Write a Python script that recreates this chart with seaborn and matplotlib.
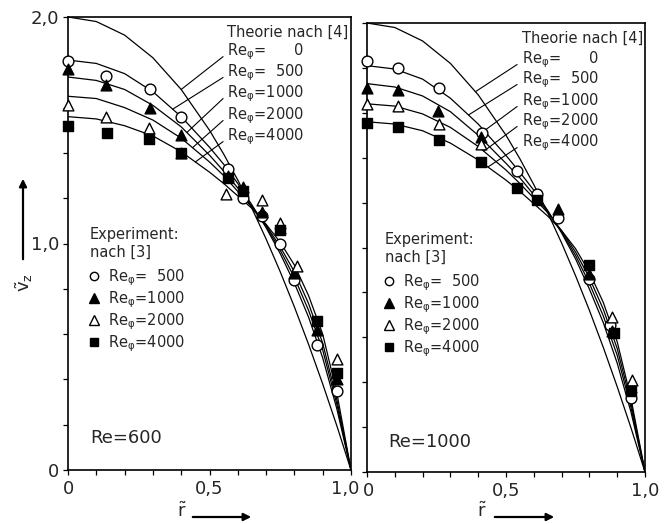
import numpy as np
import pandas as pd
import matplotlib
matplotlib.use("Agg")
import matplotlib.pyplot as plt
import seaborn as sns
from matplotlib.lines import Line2D
from matplotlib.patches import FancyArrowPatch
from matplotlib.transforms import ScaledTranslation

# ---------------- data ----------------
r_grid = [0, .1, .2, .3, .4, .5, .55, .6, .65, .7, .75, .8, .85, .9, .95, 1.0]

# theory, Re = 600 (left panel)
L_re0    = [2.0, 1.98, 1.92, 1.82, 1.68, 1.50, 1.395, 1.28, 1.155, 1.02, 0.875, 0.72, 0.555, 0.38, 0.195, 0]
L_re500  = [1.81, 1.795, 1.75, 1.67, 1.56, 1.425, 1.35, 1.265, 1.17, 1.07, 0.955, 0.825, 0.675, 0.495, 0.27, 0]
L_re1000 = [1.735, 1.72, 1.68, 1.61, 1.515, 1.39, 1.32, 1.245, 1.165, 1.075, 0.97, 0.85, 0.705, 0.53, 0.29, 0]
L_re2000 = [1.65, 1.64, 1.60, 1.545, 1.465, 1.36, 1.30, 1.23, 1.16, 1.08, 0.985, 0.875, 0.735, 0.56, 0.31, 0]
L_re4000 = [1.56, 1.55, 1.52, 1.475, 1.405, 1.315, 1.265, 1.21, 1.155, 1.085, 1.005, 0.905, 0.77, 0.60, 0.34, 0]

# theory, Re = 1000 (right panel)
R_re0    = [2.0, 1.98, 1.92, 1.82, 1.68, 1.50, 1.395, 1.28, 1.155, 1.02, 0.875, 0.72, 0.555, 0.38, 0.195, 0]
R_re500  = [1.81, 1.795, 1.75, 1.665, 1.55, 1.41, 1.335, 1.255, 1.165, 1.065, 0.95, 0.815, 0.665, 0.485, 0.265, 0]
R_re1000 = [1.73, 1.715, 1.675, 1.605, 1.50, 1.375, 1.31, 1.235, 1.16, 1.07, 0.965, 0.84, 0.695, 0.52, 0.285, 0]
R_re2000 = [1.64, 1.63, 1.595, 1.535, 1.45, 1.345, 1.285, 1.22, 1.155, 1.075, 0.98, 0.865, 0.725, 0.55, 0.305, 0]
R_re4000 = [1.56, 1.55, 1.52, 1.465, 1.39, 1.30, 1.25, 1.195, 1.14, 1.075, 0.995, 0.89, 0.755, 0.58, 0.325, 0]

# experiment, Re = 600 (left panel)
L_e500_r  = [0.0, 0.134, 0.29, 0.40, 0.565, 0.62, 0.686, 0.75, 0.80, 0.88, 0.95]
L_e500_v  = [1.805, 1.74, 1.68, 1.56, 1.33, 1.20, 1.12, 1.00, 0.84, 0.55, 0.35]
L_e1000_r = [0.0, 0.134, 0.29, 0.40, 0.565, 0.62, 0.686, 0.75, 0.80, 0.88, 0.95]
L_e1000_v = [1.77, 1.70, 1.60, 1.48, 1.30, 1.25, 1.14, 1.07, 0.87, 0.62, 0.40]
L_e2000_r = [0.0, 0.134, 0.285, 0.40, 0.56, 0.686, 0.75, 0.81, 0.95]
L_e2000_v = [1.61, 1.56, 1.51, 1.40, 1.22, 1.19, 1.09, 0.90, 0.49]
L_e4000_r = [0.0, 0.138, 0.286, 0.40, 0.565, 0.62, 0.75, 0.88, 0.95]
L_e4000_v = [1.52, 1.49, 1.46, 1.40, 1.29, 1.23, 1.06, 0.66, 0.43]

# experiment, Re = 1000 (right panel)
R_e500_r  = [0.0, 0.113, 0.258, 0.413, 0.54, 0.612, 0.688, 0.80, 0.873, 0.95]
R_e500_v  = [1.83, 1.80, 1.71, 1.51, 1.34, 1.24, 1.13, 0.86, 0.655, 0.33]
R_e1000_r = [0.0, 0.113, 0.254, 0.41, 0.688, 0.80, 0.88, 0.95]
R_e1000_v = [1.71, 1.70, 1.61, 1.49, 1.17, 0.88, 0.63, 0.38]
R_e2000_r = [0.0, 0.113, 0.258, 0.41, 0.88, 0.953]
R_e2000_v = [1.64, 1.63, 1.55, 1.46, 0.69, 0.41]
R_e4000_r = [0.0, 0.113, 0.258, 0.41, 0.54, 0.61, 0.80, 0.888, 0.95]
R_e4000_v = [1.555, 1.535, 1.48, 1.38, 1.265, 1.21, 0.92, 0.62, 0.36]

re_phi_labels = ["0", "500", "1000", "2000", "4000"]
x_ticklabels = ["0", "0,5", "1,0"]
y_ticklabels = ["0", "1,0", "2,0"]

# ---------------- style ----------------
sns.set_style("ticks")
plt.rcParams["font.family"] = ["DejaVu Sans"]
plt.rcParams["mathtext.fontset"] = "dejavusans"
plt.rcParams["mathtext.default"] = "regular"

W, H = 666, 524
fig = plt.figure(figsize=(W / 100, H / 100), dpi=100)

def px_axes(l, r, t, b):
    return fig.add_axes([l / W, 1 - b / H, (r - l) / W, (b - t) / H])

axL = px_axes(68, 351, 17, 470)
axR = px_axes(367, 645, 23, 472)

def phi_label(n):
    pad = {1: "      ", 3: "  ", 4: ""}[len(n)]
    return r"Re$_{\varphi}$=" + pad + n

open_kw = dict(facecolor="white", edgecolor="black", linewidth=1.0, zorder=5, clip_on=False)
fill_kw = dict(facecolor="black", edgecolor="black", linewidth=1.0, zorder=5, clip_on=False)

def draw_panel(ax, curves, exps, leader_r, txt_x, lead_x, txt_y, theorie_y,
               exp_title_pos, exp_anchor, re_text, re_pos, ylabels):
    for c in curves:
        sns.lineplot(x=r_grid, y=c, ax=ax, color="black", linewidth=0.9,
                     sort=False, estimator=None, zorder=3)
    (e5r, e5v), (e1r, e1v), (e2r, e2v), (e4r, e4v) = exps
    sns.scatterplot(x=e5r, y=e5v, ax=ax, marker="o", s=60, **open_kw)
    sns.scatterplot(x=e1r, y=e1v, ax=ax, marker="^", s=60, **fill_kw)
    sns.scatterplot(x=e2r, y=e2v, ax=ax, marker="^", s=60, **open_kw)
    sns.scatterplot(x=e4r, y=e4v, ax=ax, marker="s", s=42, **fill_kw)

    ax.set_xlim(0, 1.0)
    ax.set_ylim(0, 2.0)
    ax.set_xticks([0, 0.5, 1.0])
    ax.set_xticklabels(x_ticklabels)
    ax.set_xticks(np.arange(0, 1.01, 0.1), minor=True)
    ax.set_yticks([0, 1.0, 2.0])
    ax.set_yticklabels(ylabels)
    ax.set_yticks(np.arange(0, 2.01, 0.2), minor=True)
    ax.tick_params(axis="both", which="both", direction="out", length=3.5,
                   width=0.9, color="black", labelsize=13)
    ax.tick_params(axis="x", which="major", pad=4)
    ax.tick_params(axis="y", which="major", pad=3)
    for sp in ax.spines.values():
        sp.set_visible(True)
        sp.set_linewidth(1.2)
        sp.set_color("black")
    ax.set_xlabel("")
    ax.set_ylabel("")

    ax.text(txt_x, theorie_y, "Theorie nach [4]", fontsize=10.5,
            ha="left", va="center", zorder=6)
    for c, rr, ty, lab in zip(curves, leader_r, txt_y, re_phi_labels):
        ax.text(txt_x, ty, phi_label(lab), fontsize=10.5, ha="left",
                va="center", zorder=6)
        ax.annotate("", xy=(rr, np.interp(rr, r_grid, c)),
                    xytext=(lead_x, ty - 0.02),
                    arrowprops=dict(arrowstyle="-", lw=0.8, color="black",
                                    shrinkA=0, shrinkB=0))

    ax.text(exp_title_pos[0], exp_title_pos[1], "Experiment:\nnach [3]",
            fontsize=10.5, ha="left", va="top", linespacing=1.25, zorder=6)
    handles = [
        Line2D([], [], ls="", marker="o", ms=6, mfc="white", mec="black", mew=1),
        Line2D([], [], ls="", marker="^", ms=6.5, mfc="black", mec="black", mew=1),
        Line2D([], [], ls="", marker="^", ms=6.5, mfc="white", mec="black", mew=1),
        Line2D([], [], ls="", marker="s", ms=5.5, mfc="black", mec="black", mew=1),
    ]
    labels = [phi_label(l) for l in re_phi_labels[1:]]
    ax.legend(handles, labels, loc="upper left", bbox_to_anchor=exp_anchor,
              frameon=False, fontsize=10.5, borderpad=0, borderaxespad=0,
              handlelength=0.7, handletextpad=0.6, labelspacing=0.1)
    ax.text(re_pos[0], re_pos[1], re_text, fontsize=13, ha="left",
            va="center", zorder=6)

draw_panel(axL,
           [L_re0, L_re500, L_re1000, L_re2000, L_re4000],
           [(L_e500_r, L_e500_v), (L_e1000_r, L_e1000_v),
            (L_e2000_r, L_e2000_v), (L_e4000_r, L_e4000_v)],
           leader_r=[0.40, 0.37, 0.42, 0.44, 0.45],
           txt_x=0.562, lead_x=0.548,
           txt_y=[1.845, 1.753, 1.66, 1.563, 1.47], theorie_y=1.934,
           exp_title_pos=(0.078, 1.075),
           exp_anchor=(0.075, 0.448), re_text="Re=600", re_pos=(0.078, 0.142),
           ylabels=y_ticklabels)

draw_panel(axR,
           [R_re0, R_re500, R_re1000, R_re2000, R_re4000],
           [(R_e500_r, R_e500_v), (R_e1000_r, R_e1000_v),
            (R_e2000_r, R_e2000_v), (R_e4000_r, R_e4000_v)],
           leader_r=[0.39, 0.365, 0.40, 0.42, 0.435],
           txt_x=0.558, lead_x=0.54,
           txt_y=[1.835, 1.746, 1.648, 1.559, 1.465], theorie_y=1.933,
           exp_title_pos=(0.065, 1.07),
           exp_anchor=(0.062, 0.445), re_text="Re=1000", re_pos=(0.075, 0.135),
           ylabels=["", "", ""])

# shift the left panel's "1,0" label so it sits next to the right panel's "0"
lab = axL.get_xticklabels()[-1]
lab.set_transform(lab.get_transform() + ScaledTranslation(-6 / 100, 0, fig.dpi_scale_trans))
lab0 = axR.get_xticklabels()[0]
lab0.set_transform(lab0.get_transform() + ScaledTranslation(1 / 100, 0, fig.dpi_scale_trans))

# axis labels with arrows (figure pixel coordinates)
def fpt(x, y):
    return (x / W, 1 - y / H)

fig.text(*fpt(24, 283), r"$\tilde{\mathrm{v}}_{\mathrm{z}}$", rotation=90,
         ha="center", va="center", fontsize=13)
fig.add_artist(FancyArrowPatch(fpt(23, 262), fpt(23, 176), transform=fig.transFigure,
                               arrowstyle="-|>", mutation_scale=11, lw=1.6, color="black"))
for lx, a0, a1 in [(182, 190, 254), (482, 492, 557)]:
    fig.text(*fpt(lx, 511), r"$\tilde{\mathrm{r}}$", ha="center", va="center", fontsize=13)
    fig.add_artist(FancyArrowPatch(fpt(a0, 517), fpt(a1, 517), transform=fig.transFigure,
                                   arrowstyle="-|>", mutation_scale=11, lw=1.6, color="black"))

fig.savefig("out.png", dpi=100)
